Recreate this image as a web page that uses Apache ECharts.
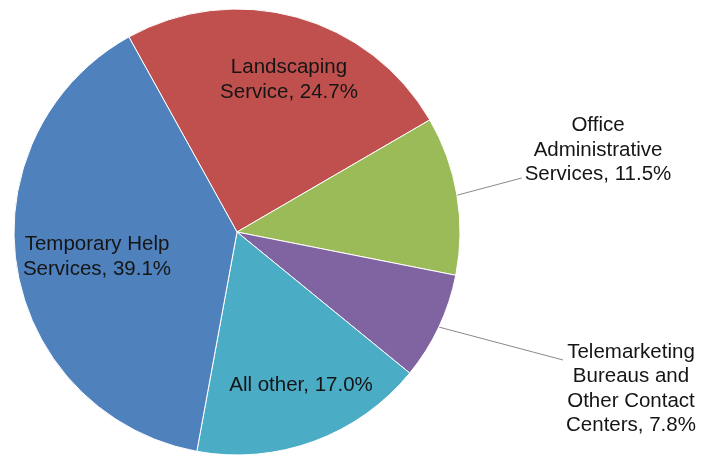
<!DOCTYPE html>
<html>
<head>
<meta charset="utf-8">
<script src="https://cdn.jsdelivr.net/npm/echarts@6/dist/echarts.min.js"></script>
<style>
  html, body { margin: 0; padding: 0; background: #ffffff; }
  #chart { width: 702px; height: 458px; }
</style>
</head>
<body>
<div id="chart"></div>
<script>
// Industry shares, listed clockwise from the top of the pie
const categories = [
  'Landscaping\nService',
  'Office\nAdministrative\nServices',
  'Telemarketing\nBureaus and\nOther Contact\nCenters',
  'All other',
  'Temporary Help\nServices'
];
const shares = [24.7, 11.5, 7.8, 17.0, 39.1];
const sliceColors = ['#C0504D', '#9BBB59', '#8064A2', '#4BACC6', '#4F81BD'];

// Label anchor (centre of the text block) for each slice, plus whether it sits outside
const labelSpots = [
  { x: 289, y: 80, outside: false },
  { x: 598, y: 150, outside: true, lineDy: 28 },
  { x: 631, y: 389, outside: true, lineDy: -29 },
  { x: 301, y: 385, outside: false },
  { x: 97, y: 257, outside: false }
];

const chart = echarts.init(document.getElementById('chart'), null, { renderer: 'canvas' });

const data = categories.map((name, i) => ({
  name: name,
  value: shares[i],
  itemStyle: { color: sliceColors[i] },
  label: { position: labelSpots[i].outside ? 'outside' : 'inside' },
  labelLine: { show: labelSpots[i].outside }
}));

chart.setOption({
  backgroundColor: '#ffffff',
  animation: false,
  series: [{
    type: 'pie',
    center: [237, 232],
    radius: 223,
    startAngle: 119,
    clockwise: true,
    data: data,
    itemStyle: { borderColor: '#ffffff', borderWidth: 1 },
    label: {
      show: true,
      formatter: p => p.name + ', ' + p.value.toFixed(1) + '%',
      fontFamily: 'Liberation Sans, Arial, sans-serif',
      fontSize: 20.5,
      lineHeight: 24.5,
      color: '#151515',
      align: 'center'
    },
    labelLine: {
      lineStyle: { color: '#8a8a8a', width: 1 },
      length: 40,
      length2: 10
    },
    labelLayout: function (params) {
      const spot = labelSpots[params.dataIndex];
      const out = { x: spot.x, y: spot.y, align: 'center', verticalAlign: 'middle' };
      if (spot.outside && params.labelLinePoints) {
        const start = params.labelLinePoints[0];
        const left = spot.x - params.labelRect.width / 2 - 3;
        out.labelLinePoints = [start, [left, spot.y + spot.lineDy]];
      }
      return out;
    }
  }]
});
</script>
</body>
</html>
